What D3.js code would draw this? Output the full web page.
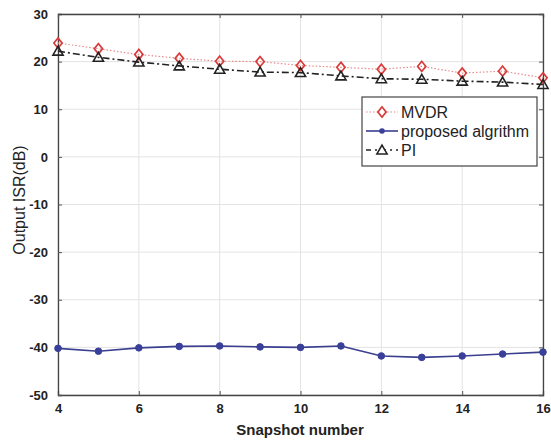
<!DOCTYPE html>
<html><head><meta charset="utf-8">
<script src="https://cdn.jsdelivr.net/npm/d3@7"></script>
<style>body{margin:0;background:#fff;} svg{display:block;}</style>
</head><body>
<svg id="c" width="551" height="440"></svg>
<script>
const snapshots = [4,5,6,7,8,9,10,11,12,13,14,15,16];
const mvdr = [23.9,22.7,21.5,20.7,20.1,20.0,19.2,18.8,18.4,19.0,17.6,18.0,16.6];
const proposed = [-40.2,-40.8,-40.1,-39.8,-39.7,-39.9,-40.0,-39.7,-41.8,-42.1,-41.8,-41.4,-41.0];
const pi = [22.2,20.9,19.9,19.1,18.4,17.8,17.7,17.0,16.4,16.3,15.9,15.7,15.2];
const xTicks = [4,6,8,10,12,14,16];
const yTicks = [30,20,10,0,-10,-20,-30,-40,-50];
const seriesNames = ["MVDR","proposed algrithm","PI"];

const svg = d3.select("#c");
const L=58,R=543,T=14,B=395;
const x = d3.scaleLinear().domain([4,16]).range([L,R]);
const y = d3.scaleLinear().domain([-50,30]).range([B,T]);
const font = "'Liberation Sans', Arial, sans-serif";
const fmt = d => String(d);

// grid
svg.append("g").selectAll("line").data(xTicks).join("line")
  .attr("x1",d=>x(d)).attr("x2",d=>x(d)).attr("y1",T).attr("y2",B)
  .attr("stroke","#e3e3e3").attr("stroke-width",1);
svg.append("g").selectAll("line").data(yTicks).join("line")
  .attr("x1",L).attr("x2",R).attr("y1",d=>y(d)).attr("y2",d=>y(d))
  .attr("stroke","#e3e3e3").attr("stroke-width",1);

// axes
const xAxis = d3.axisBottom(x).tickValues(xTicks).tickSize(-4).tickPadding(9).tickFormat(fmt);
const yAxis = d3.axisLeft(y).tickValues(yTicks).tickSize(-4).tickPadding(10).tickFormat(fmt);
const gx = svg.append("g").attr("transform",`translate(0,${B})`).call(xAxis);
const gy = svg.append("g").attr("transform",`translate(${L},0)`).call(yAxis);
const gx2 = svg.append("g").attr("transform",`translate(0,${T})`).call(d3.axisTop(x).tickValues(xTicks).tickSize(-4).tickFormat(""));
const gy2 = svg.append("g").attr("transform",`translate(${R},0)`).call(d3.axisRight(y).tickValues(yTicks).tickSize(-4).tickFormat(""));
[gx,gy,gx2,gy2].forEach(g=>{
  g.selectAll("path.domain").attr("stroke","#444").attr("stroke-width",1.3);
  g.selectAll(".tick line").attr("stroke","#555");
  g.selectAll("text").attr("font-family",font).attr("font-size",13).attr("font-weight","bold").attr("fill","#222");
});

// labels
svg.append("text").attr("x",300).attr("y",435).attr("text-anchor","middle")
  .attr("font-family",font).attr("font-size",15).attr("font-weight","bold").attr("fill","#222").text("Snapshot number");
svg.append("text").attr("transform",`translate(25,200) rotate(-90)`).attr("text-anchor","middle")
  .attr("font-family",font).attr("font-size",16).attr("fill","#222").text("Output ISR(dB)");

const line = d3.line().x((d,i)=>x(snapshots[i])).y(d=>y(d));

// MVDR
svg.append("path").datum(mvdr).attr("d",line).attr("fill","none")
  .attr("stroke","#e88a8a").attr("stroke-width",1.2).attr("stroke-dasharray","1.5,2");
// PI
svg.append("path").datum(pi).attr("d",line).attr("fill","none")
  .attr("stroke","#222").attr("stroke-width",1.6).attr("stroke-dasharray","7,3,2,3");
// proposed
svg.append("path").datum(proposed).attr("d",line).attr("fill","none")
  .attr("stroke","#3a3f8f").attr("stroke-width",1.6);

const diamond = d3.symbol().type(d3.symbolDiamond2).size(36);
const tri = d3.symbol().type(d3.symbolTriangle).size(45);

svg.append("g").selectAll("path").data(mvdr).join("path")
  .attr("d",diamond).attr("transform",(d,i)=>`translate(${x(snapshots[i])},${y(d)}) scale(1.1,1.35)`)
  .attr("fill","none").attr("stroke","#d93a3a").attr("stroke-width",1.4);
svg.append("g").selectAll("path").data(pi).join("path")
  .attr("d",tri).attr("transform",(d,i)=>`translate(${x(snapshots[i])},${y(d)+1})`)
  .attr("fill","none").attr("stroke","#222").attr("stroke-width",1.6);
svg.append("g").selectAll("circle").data(proposed).join("circle")
  .attr("cx",(d,i)=>x(snapshots[i])).attr("cy",d=>y(d)).attr("r",3.3)
  .attr("fill","#3a3f9a").attr("stroke","#3a3f9a");

// legend
const lg = svg.append("g");
lg.append("rect").attr("x",362).attr("y",97).attr("width",175).attr("height",69)
  .attr("fill","#fff").attr("stroke","#444").attr("stroke-width",1.2);
const rowsY = [112,131,150];
const lx1=366, lx2=398, ltx=401;
// MVDR
lg.append("line").attr("x1",lx1).attr("x2",lx2).attr("y1",rowsY[0]).attr("y2",rowsY[0])
  .attr("stroke","#e88a8a").attr("stroke-width",1.2).attr("stroke-dasharray","1.5,2");
lg.append("path").attr("d",diamond).attr("transform",`translate(${(lx1+lx2)/2},${rowsY[0]}) scale(1.1,1.35)`)
  .attr("fill","#fff").attr("stroke","#d93a3a").attr("stroke-width",1.4);
// proposed
lg.append("line").attr("x1",lx1).attr("x2",lx2).attr("y1",rowsY[1]).attr("y2",rowsY[1])
  .attr("stroke","#3a3f8f").attr("stroke-width",1.6);
lg.append("circle").attr("cx",(lx1+lx2)/2).attr("cy",rowsY[1]).attr("r",2.8).attr("fill","#3a3f9a");
// PI
lg.append("line").attr("x1",lx1).attr("x2",lx2).attr("y1",rowsY[2]).attr("y2",rowsY[2])
  .attr("stroke","#222").attr("stroke-width",1.6).attr("stroke-dasharray","5,4,2,4");
lg.append("path").attr("d",tri).attr("transform",`translate(${(lx1+lx2)/2},${rowsY[2]+1})`)
  .attr("fill","#fff").attr("stroke","#222").attr("stroke-width",1.6);
lg.selectAll("text.l").data(seriesNames).join("text")
  .attr("x",ltx).attr("y",(d,i)=>rowsY[i]+6).attr("font-family",font).attr("font-size",16).attr("fill","#222").text(d=>d);
</script>
</body></html>
